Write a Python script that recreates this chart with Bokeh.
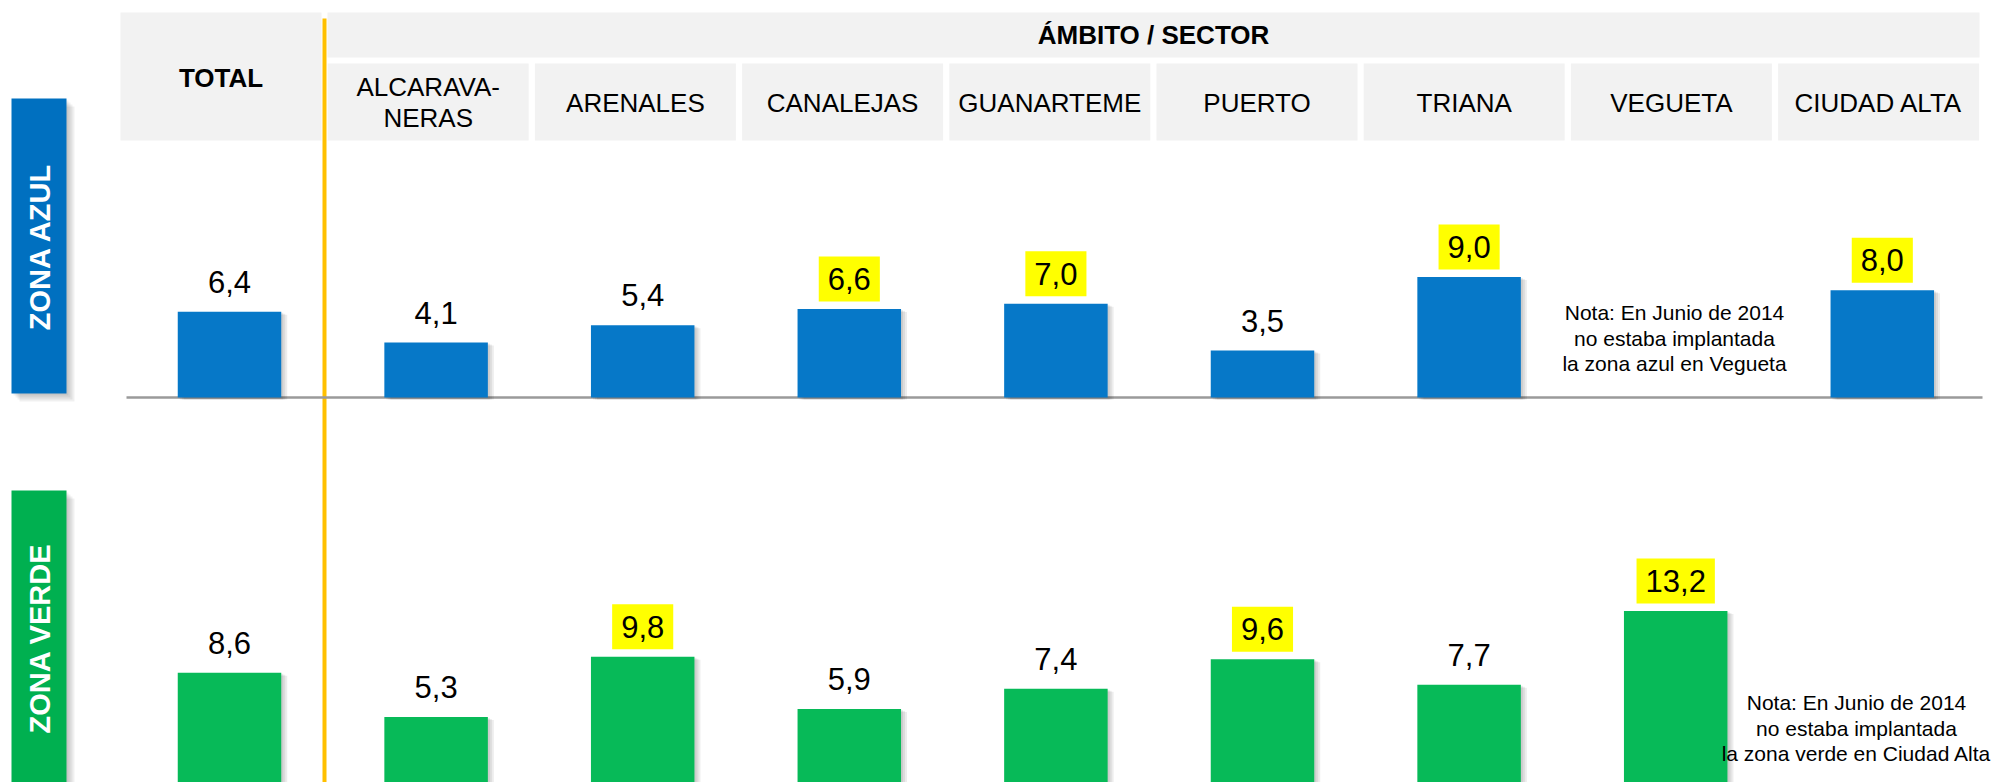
import math
from bokeh.plotting import figure
from bokeh.models import Range1d, ColumnDataSource
from bokeh.embed import file_html
from bokeh.resources import INLINE
from bokeh.core.properties import value

# ---------------- data ----------------
categories = ["TOTAL", "ALCARAVANERAS", "ARENALES", "CANALEJAS", "GUANARTEME",
              "PUERTO", "TRIANA", "VEGUETA", "CIUDAD ALTA"]
header_labels = ["TOTAL", "ALCARAVA-\nNERAS", "ARENALES", "CANALEJAS", "GUANARTEME",
                 "PUERTO", "TRIANA", "VEGUETA", "CIUDAD ALTA"]
group_title = "ÁMBITO / SECTOR"
zone_titles = ["ZONA AZUL", "ZONA VERDE"]
azul = [6.4, 4.1, 5.4, 6.6, 7.0, 3.5, 9.0, None, 8.0]
verde = [8.6, 5.3, 9.8, 5.9, 7.4, 9.6, 7.7, 13.2, None]
azul_highlight = [False, False, False, True, True, False, True, False, True]
verde_highlight = [False, False, True, False, False, True, False, True, False]
nota_azul = ["Nota: En Junio de 2014", "no estaba implantada", "la zona azul en Vegueta"]
nota_verde = ["Nota: En Junio de 2014", "no estaba implantada", "la zona verde en Ciudad Alta"]

# ---------------- layout helpers (page pixels -> data) ----------------
PITCH = 206.6      # px per category
UNIT = 13.4        # px per value unit
X0 = 229.0         # page x of first category centre
BASE = 787.5       # page y of lower baseline
ORIGIN = 0         # page position of the canvas


def X(px):
    return (px - X0) / PITCH


def Y(py):
    return (BASE - py) / UNIT


def dx(px):
    return px / PITCH


def dy(px):
    return px / UNIT


W, H = 2001, 782
FONT = "Liberation Sans"
BLUE = "#0678C8"
GREEN = "#07BA58"
OFF_TOP = Y(397)   # baseline of upper panel in data units

p = figure(width=W, height=H, output_backend="svg", toolbar_location=None,
           x_range=Range1d(X(ORIGIN), X(ORIGIN + W)),
           y_range=Range1d(Y(ORIGIN + H), Y(ORIGIN)),
           x_axis_location=None, y_axis_location=None, min_border=0,
           background_fill_color="white", border_fill_color="white")
p.grid.visible = False
p.outline_line_color = None

n = len(categories)
idx = list(range(n))

# ---------------- header ----------------
hcx = [220.5 + 207.2 * i for i in idx]
# TOTAL box
p.quad(left=[X(120)], right=[X(321)], top=[Y(12)], bottom=[Y(140)],
       fill_color="#F2F2F2", line_color=None)
# group band
p.quad(left=[X(327)], right=[X(1979)], top=[Y(12)], bottom=[Y(57)],
       fill_color="#F2F2F2", line_color=None)
p.text(x=[X((327 + 1979) / 2)], y=[Y(34)], text=[group_title],
       text_font=value(FONT), text_font_size="26px", text_font_style="bold",
       text_align="center", text_baseline="middle", text_color="black")
# sub cells
p.quad(left=[X(c - 100.5) for c in hcx[1:]], right=[X(c + 100.5) for c in hcx[1:]],
       top=[Y(63)] * (n - 1), bottom=[Y(140)] * (n - 1),
       fill_color="#F2F2F2", line_color=None)
p.text(x=[X(hcx[0])], y=[Y(77)], text=[header_labels[0]],
       text_font=value(FONT), text_font_size="26px", text_font_style="bold",
       text_align="center", text_baseline="middle", text_color="black")
hx, hy, ht = [], [], []
for i in idx[1:]:
    lines = header_labels[i].split("\n")
    m = len(lines)
    for k, ln in enumerate(lines):
        hx.append(X(hcx[i]))
        hy.append(Y(102 + (k - (m - 1) / 2) * 31))
        ht.append(ln)
p.text(x=hx, y=hy, text=ht, text_font=value(FONT), text_font_size="26px",
       text_align="center", text_baseline="middle", text_color="black")

# ---------------- separators ----------------
p.segment(x0=[X(324)], y0=[Y(18)], x1=[X(324)], y1=[Y(790)],
          line_color="#FFC000", line_width=4)
p.segment(x0=[X(126)], y0=[OFF_TOP], x1=[X(1982)], y1=[OFF_TOP],
          line_color="#9A9A9A", line_width=2.5)

# ---------------- zone labels ----------------
zone_boxes = [(98, 393, "#0070C0"), (490, 800, "#00B050")]
for (t, b, col), title in zip(zone_boxes, zone_titles):
    for k in (2, 4, 6, 8):
        p.quad(left=[X(11 + k)], right=[X(66 + k)], top=[Y(t + k)], bottom=[Y(b + k)],
               fill_color="black", fill_alpha=0.06, line_color=None)
    p.quad(left=[X(11)], right=[X(66)], top=[Y(t)], bottom=[Y(b)],
           fill_color=col, line_color=None)
p.text(x=[X(39), X(39)], y=[Y(246), Y(638)], text=zone_titles,
       angle=math.pi / 2, text_font=value(FONT), text_font_size="29px",
       text_font_style="bold", text_align="center", text_baseline="middle",
       text_color="white")

# ---------------- bars ----------------
BAR_W = dx(103.5)
char_w = {",": 0.278}


def label_width(s, size=31):
    return sum(char_w.get(c, 0.556) for c in s) * size


def draw_panel(vals, hl, base, color):
    xs = [i for i in idx if vals[i] is not None]
    tops = [base + vals[i] for i in xs]
    # soft shadow
    for k in (2, 4, 6):
        p.vbar(x=[x + dx(k) for x in xs], top=[t - dy(k / 2) for t in tops],
               bottom=base - dy(2), width=BAR_W, fill_color="black",
               fill_alpha=0.07, line_color=None)
    p.vbar(x=xs, top=tops, bottom=base, width=BAR_W, fill_color=color,
           line_color=None)
    labels = [f"{vals[i]:.1f}".replace(".", ",") for i in xs]
    ly = [t + dy(30) for t in tops]
    hx_ = [x for x, i in zip(xs, xs) if hl[i]]
    hy_ = [y for y, i in zip(ly, xs) if hl[i]]
    hw_ = [label_width(l) + 18 for l, i in zip(labels, xs) if hl[i]]
    if hx_:
        src = ColumnDataSource(dict(x=hx_, y=hy_, w=hw_))
        p.rect(x="x", y="y", width="w", height=45, width_units="screen",
               height_units="screen", source=src, fill_color="#FFFF00",
               line_color=None)
    p.text(x=xs, y=ly, text=labels, text_font=value(FONT), text_font_size="31px",
           text_align="center", text_baseline="middle", text_color="black")


draw_panel(azul, azul_highlight, OFF_TOP, BLUE)
draw_panel(verde, verde_highlight, 0.0, GREEN)

# ---------------- notes ----------------
p.text(x=[X(1674)] * 3, y=[Y(312), Y(337.5), Y(363)], text=nota_azul,
       text_font=value(FONT), text_font_size="21px", text_align="center",
       text_baseline="middle", text_color="black")
p.text(x=[X(1856)] * 3, y=[Y(702), Y(727.5), Y(753)], text=nota_verde,
       text_font=value(FONT), text_font_size="21px", text_align="center",
       text_baseline="middle", text_color="black")

open("out.html", "w").write(file_html(p, INLINE))
